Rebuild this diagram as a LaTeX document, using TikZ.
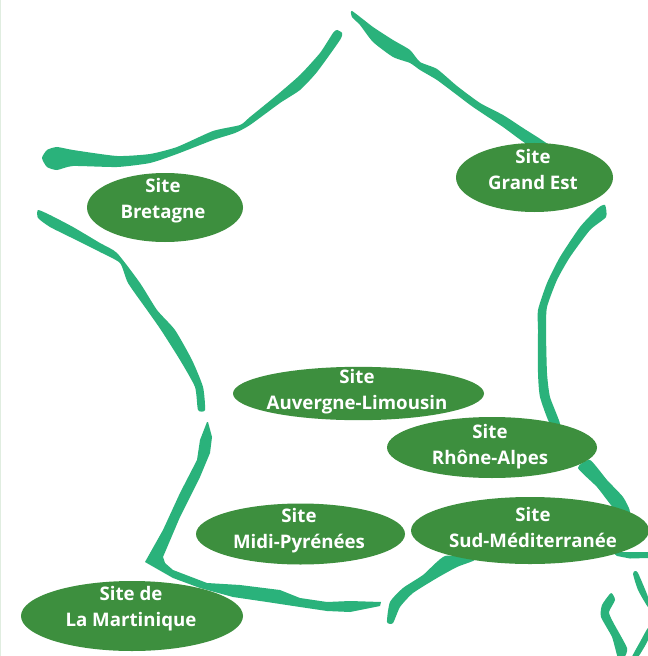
\documentclass[tikz,border=0pt]{standalone}
\usepackage{fontspec}
\setmainfont{Open Sans}
\usetikzlibrary{shapes.geometric}
\definecolor{coast}{HTML}{2AB27B}
\definecolor{site}{HTML}{3D8F3E}
\tikzset{
  coastline/.style={fill=coast,draw=none},
  sitebox/.style={shape=ellipse,fill=site,draw=none,inner sep=0pt,outer sep=0pt},
  sitelabel/.style={text=white,font=\fontsize{14}{19.5}\selectfont\bfseries,align=center,inner sep=0pt}
}
\newcommand{\blob}[1]{\fill[coastline] plot[smooth cycle,tension=0.35] coordinates {#1};}
\begin{document}
\begin{tikzpicture}[x=0.75pt,y=-0.75pt]
\useasboundingbox (0,0) rectangle (648,656);
\fill[white] (0,0) rectangle (648,656);
\fill[green!40!black!12] (0,0) rectangle (1,656);
% north coast
\blob{(337,30)(342,33)(340,40)(317,72)(300,90)(280,103)(250,125)(235,133)(213,140)(177,154)(150,163)(117,167)(73,166)(57,170)(47,167)(42,158)(47,150)(57,147)(73,150)(117,156)(150,154)(177,147)(213,131)(240,125)(250,117)(277,95)(300,75)(320,53)(333,33)}
% north-east border
\blob{(352,11)(373,27)(393,40)(410,50)(420,62)(437,69)(457,86)(480,103)(503,115)(523,128)(550,146)(530,146)(503,127)(473,107)(457,95)(437,80)(420,70)(410,63)(393,57)(373,42)(360,25)(352,17)}
% east border, upper
\blob{(605,205)(606,217)(590,230)(570,257)(557,280)(547,307)(546,330)(547,373)(550,397)(560,424)(550,424)(540,397)(538,373)(538,330)(538,310)(547,283)(560,257)(580,227)(598,208)}
% east border, lower
\blob{(590,460)(607,480)(623,497)(630,512)(617,512)(597,487)(578,468)}
% south-east strip
\fill[coastline] (612,552) -- (648,552) -- (648,558) -- (630,558.5) -- (617,556) -- cycle;
% mediterranean coast
\blob{(445,556)(475,558)(473,561)(457,567)(437,578)(413,593)(400,607)(393,623)(387,622)(390,602)(403,588)(423,575)}
% atlantic coast, upper
\blob{(38,210)(50,215)(73,227)(100,243)(117,253)(140,283)(157,310)(175,330)(192,360)(203,387)(205,410)(198,410)(195,387)(180,360)(161,330)(147,310)(128,283)(120,263)(100,252)(70,237)(50,227)(38,218)}
% atlantic and pyrenees coast
\fill[coastline] (207,422) -- (200,440) -- (197,460) -- (180,493) -- (163,530) -- (145,562) -- (173,578) -- (200,588) -- (233,597) -- (267,602) -- (300,607) -- (327,611) -- (350,612) -- (380,606) -- (381,602) -- (350,601) -- (327,602) -- (300,598) -- (280,590) -- (240,585) -- (207,583) -- (173,570) -- (165,563) -- (163,557) -- (180,517) -- (200,477) -- (210,453) -- (212,437) -- (208,422) -- cycle;
% corsica
\blob{(635,571)(638,573)(648,597)(648,607)(638,590)(633,574)}
\blob{(611,593)(615,600)(609,612)(613,622)(627,648)(624,658)(618,658)(612,637)(601,617)(602,605)}
\blob{(648,628)(648,640)(638,657)(632,657)(640,642)}
% sites
\node[sitebox,minimum width=117pt,minimum height=51.75pt] (bretagne) at (165,207.5) {};
\node[sitebox,minimum width=117.75pt,minimum height=51.75pt] (grandest) at (534.5,177.5) {};
\node[sitebox,minimum width=188.25pt,minimum height=40pt] (auvergne) at (358.5,393.5) {};
\node[sitebox,minimum width=157.5pt,minimum height=45.75pt] (rhone) at (492,447.5) {};
\node[sitebox,minimum width=156.75pt,minimum height=45.75pt] (midi) at (300.5,534) {};
\node[sitebox,minimum width=178.5pt,minimum height=50.25pt] (sud) at (530,530.5) {};
\node[sitebox,minimum width=166.5pt,minimum height=52.5pt] (martinique) at (132,616) {};
\node[sitelabel] (lbretagne) at (163,201) {Site\\Bretagne};
\node[sitelabel] (lgrandest) at (533,170) {Site\\Grand Est};
\node[sitelabel] (lauvergne) at (357,392) {Site\\Auvergne-Limousin};
\node[sitelabel] (lrhone) at (490,447) {Site\\Rhône-Alpes};
\node[sitelabel] (lmidi) at (299,531) {Site\\Midi-Pyrénées};
\node[sitelabel] (lsud) at (533,527) {Site\\Sud-Méditerranée};
\node[sitelabel] (lmartinique) at (131,609) {Site de\\La Martinique};
\end{tikzpicture}
\end{document}
